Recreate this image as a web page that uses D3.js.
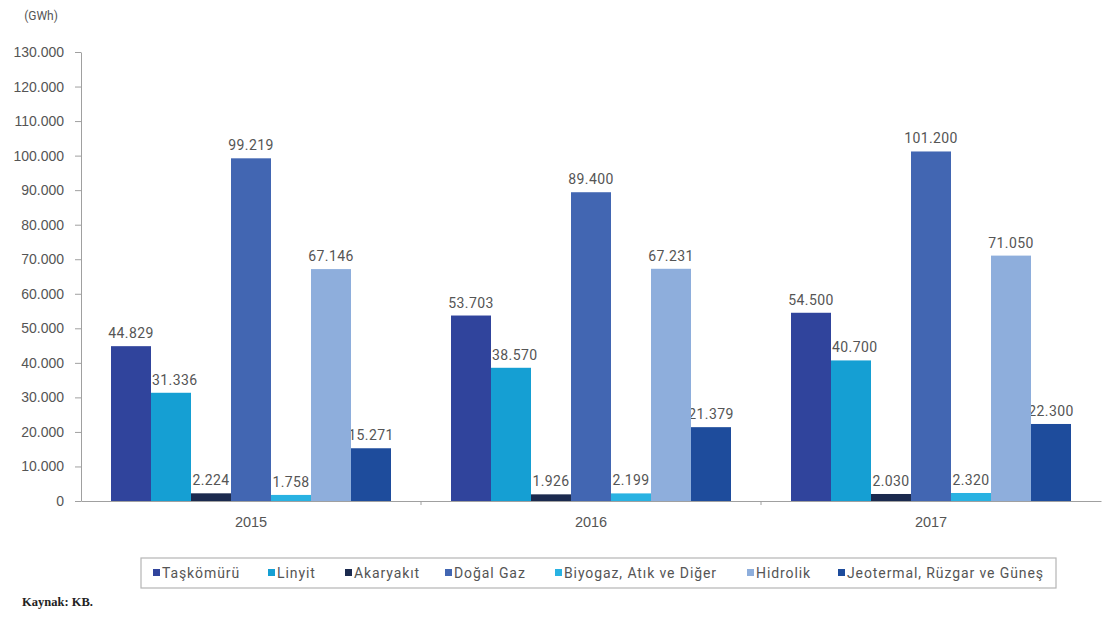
<!DOCTYPE html>
<html><head><meta charset="utf-8">
<script src="https://cdn.jsdelivr.net/npm/d3@7"></script>
<style>body{margin:0;background:#fff;}svg{display:block;font-family:Roboto,"DejaVu Sans Condensed",sans-serif;}</style>
</head><body><svg id="c" width="1103" height="618"></svg>
<script>
const years = ["2015","2016","2017"];
const seriesNames = ["Taşkömürü","Linyit","Akaryakıt","Doğal Gaz","Biyogaz, Atık ve Diğer","Hidrolik","Jeotermal, Rüzgar ve Güneş"];
const seriesColors = ["#30449c","#159fd3","#1b2a4e","#4266b2","#29b2e2","#8eaedc","#1e4c9c"];
const taskomuru = [44829,53703,54500];
const linyit = [31336,38570,40700];
const akaryakit = [2224,1926,2030];
const dogalGaz = [99219,89400,101200];
const biyogaz = [1758,2199,2320];
const hidrolik = [67146,67231,71050];
const jeotermal = [15271,21379,22300];
const seriesValues = [taskomuru,linyit,akaryakit,dogalGaz,biyogaz,hidrolik,jeotermal];
const yTicks = [0,10000,20000,30000,40000,50000,60000,70000,80000,90000,100000,110000,120000,130000];

const fmt = v => d3.format(",")(v).replace(/,/g,".");
const svg = d3.select("#c");
const x0 = d3.scaleBand().domain(years).range([81,1101]).paddingInner(60/340).paddingOuter(30/340);
const x1 = d3.scaleBand().domain(seriesNames).range([0,x0.bandwidth()]);
const y = d3.scaleLinear().domain([0,130000]).range([501,52]);

// y axis
const ya = svg.append("g").attr("transform","translate(81,0)")
  .call(d3.axisLeft(y).tickValues(yTicks).tickFormat(fmt).tickSize(6).tickSizeOuter(0));
ya.select(".domain").attr("stroke","#a0a0a0");
ya.selectAll(".tick line").attr("stroke","#a0a0a0");
ya.selectAll(".tick text").attr("fill","#555").attr("font-size","14px").attr("x",-17);

// x axis
const xa = svg.append("g").attr("transform","translate(0,501)")
  .call(d3.axisBottom(x0).tickSize(0).tickSizeOuter(0));
xa.select(".domain").attr("stroke","#a0a0a0");
xa.selectAll(".tick text").attr("fill","#555").attr("font-size","14.5px").attr("dy","1.6em");
const bounds = [years[1],years[2]].map(yy => x0(yy) - x0.step()*x0.paddingInner()/2);
svg.selectAll(".sep").data(bounds).enter().append("line")
  .attr("x1",d=>d).attr("x2",d=>d).attr("y1",501).attr("y2",505).attr("stroke","#a0a0a0");

const groups = svg.selectAll(".grp").data(years).enter().append("g")
  .attr("transform",d=>`translate(${x0(d)},0)`);
// labels (drawn beneath bars so neighbouring bars hide any overlap)
groups.each(function(yr,yi){
  const g = d3.select(this);
  seriesNames.forEach((s,si)=>{
    const v = seriesValues[si][yi];
    const left = si === 1;
    g.append("text").attr("x", left ? x1(s) + 1 : x1(s)+x1.bandwidth()/2).attr("y",y(v)-8)
      .attr("text-anchor", left ? "start" : "middle").attr("fill","#555").attr("font-size","14px")
      .attr("letter-spacing","0.4px").text(fmt(v));
  });
});
// bars
groups.each(function(yr,yi){
  const g = d3.select(this);
  seriesNames.forEach((s,si)=>{
    const v = seriesValues[si][yi];
    g.append("rect").attr("x",x1(s)).attr("width",x1.bandwidth())
      .attr("y",y(v)).attr("height",501-y(v)).attr("fill",seriesColors[si]);
  });
});

// unit
svg.append("text").attr("x",41).attr("y",20).attr("text-anchor","middle").attr("fill","#555").attr("font-size","12px").text("(GWh)");

// legend
svg.append("rect").attr("x",141).attr("y",558).attr("width",915).attr("height",30).attr("fill","#fff").attr("stroke","#b5b5b5").attr("stroke-width",1.2);
const legX = [153,268,345,445,555,747,838];
seriesNames.forEach((s,i)=>{
  svg.append("rect").attr("x",legX[i]).attr("y",569).attr("width",7).attr("height",7).attr("fill",seriesColors[i]);
  svg.append("text").attr("x",legX[i]+9).attr("y",578).attr("fill","#555").attr("font-size","14px")
    .attr("letter-spacing","0.9px").text(s);
});

// source
svg.append("text").attr("x",22).attr("y",606).attr("font-family","'Liberation Serif',serif").attr("font-weight","bold").attr("font-size","12.5px").attr("fill","#222").text("Kaynak: KB.");
</script></body></html>
